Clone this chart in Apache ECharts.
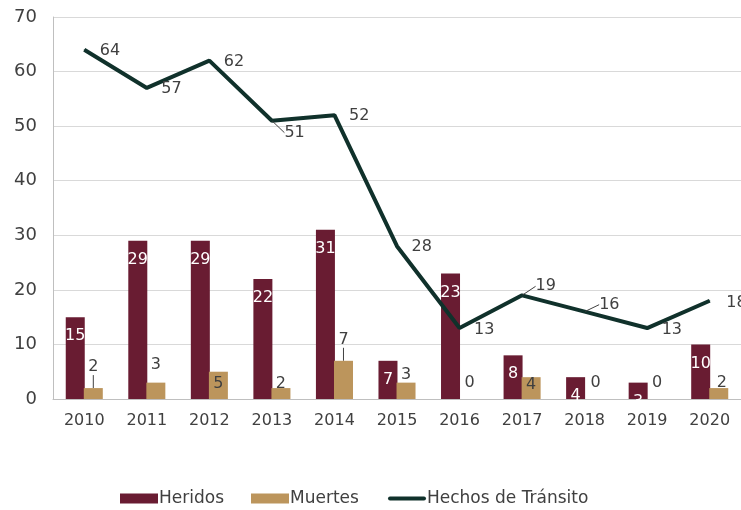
<!DOCTYPE html>
<html>
<head>
<meta charset="utf-8">
<script src="https://cdn.jsdelivr.net/npm/echarts@6/dist/echarts.min.js"></script>
<style>
  html, body { margin: 0; padding: 0; background: #ffffff; }
  #chart { width: 741px; height: 510px; }
</style>
</head>
<body>
<div id="chart"></div>
<script>
// Años
const years = ['2010', '2011', '2012', '2013', '2014', '2015', '2016', '2017', '2018', '2019', '2020'];
// Personas heridas por año
const heridos = [15, 29, 29, 22, 31, 7, 23, 8, 4, 3, 10];
// Personas fallecidas por año
const muertes = [2, 3, 5, 2, 7, 3, 0, 4, 0, 0, 2];
// Total de hechos de tránsito por año
const hechos = [64, 57, 62, 51, 52, 28, 13, 19, 16, 13, 18];
// Marcas del eje vertical
const yTicks = [0, 10, 20, 30, 40, 50, 60, 70];

const FONT = '"DejaVu Sans", sans-serif';
const TEXT = '#404040';
const C_HER = '#691C32';
const C_MUE = '#BC955C';
const C_HEC = '#10312B';

// Etiquetas de muertes: posición y ajuste fino por año
const muertesLabelPos = ['top', 'top', 'inside', 'top', 'top', 'top', 'top', 'inside', 'top', 'top', 'top'];
const muertesLabelShift = [[0, -8], [0, -5], [0, -2], [0, 9], [0, -8], [0, 5], [1, -3], [0, -3], [2, -3], [1, -3], [3, 8]];
const muertesGuide = [true, false, false, false, true, false, false, false, false, false, false];
// Etiquetas de hechos: ajuste fino y línea guía
const hechosLabelShift = [[3, 1], [2, 1], [2, 1], [0, 12], [2, 1], [2, 1], [2, 2], [1, -9], [2, -7], [2, 2], [4, 2]];
const hechosGuide = [false, false, false, true, false, false, false, true, true, false, false];

const legendBase = {
  bottom: 3,
  padding: 0,
  itemWidth: 38,
  itemHeight: 10,
  textStyle: { fontFamily: FONT, fontSize: 17, color: TEXT, padding: [0, 0, 0, -4] }
};

const option = {
  animation: false,
  grid: { left: 53, right: -2, top: 17, bottom: 111, containLabel: false },
  legend: [
    Object.assign({}, legendBase, { left: 120, data: [{ name: 'Heridos', icon: 'rect' }] }),
    Object.assign({}, legendBase, { left: 251, data: [{ name: 'Muertes', icon: 'rect' }] }),
    Object.assign({}, legendBase, {
      left: 388,
      data: [{ name: 'Hechos de Tránsito', icon: 'path://M2,0 L36,0 A2,2 0 0 1 36,4 L2,4 A2,2 0 0 1 2,0 Z' }]
    })
  ],
  xAxis: {
    type: 'category',
    data: years,
    axisLine: { lineStyle: { color: '#bfbfbf', width: 1 } },
    axisTick: { show: false },
    axisLabel: { fontFamily: FONT, fontSize: 16, color: TEXT, margin: 14 }
  },
  yAxis: {
    type: 'value',
    min: yTicks[0],
    max: yTicks[yTicks.length - 1],
    interval: 10,
    axisLine: { show: true, lineStyle: { color: '#bfbfbf', width: 1 } },
    axisTick: { show: false },
    splitLine: { lineStyle: { color: '#d9d9d9', width: 1 } },
    axisLabel: { fontFamily: FONT, fontSize: 18, color: TEXT, margin: 16 }
  },
  series: [
    {
      name: 'Heridos',
      type: 'bar',
      data: heridos,
      barWidth: 19,
      barGap: '-5%',
      itemStyle: { color: C_HER },
      label: {
        show: true,
        position: 'insideTop',
        distance: 11,
        fontFamily: FONT,
        fontSize: 16,
        color: '#ffffff'
      }
    },
    {
      name: 'Muertes',
      type: 'bar',
      data: muertes.map((v, i) => ({
        value: v,
        label: { position: muertesLabelPos[i] },
        labelLine: { show: muertesGuide[i] }
      })),
      barWidth: 19,
      itemStyle: { color: C_MUE },
      label: {
        show: true,
        distance: 5,
        fontFamily: FONT,
        fontSize: 16,
        color: TEXT
      },
      labelLine: { lineStyle: { color: TEXT, width: 1 }, length2: 0 },
      labelLayout: (p) => ({ dx: muertesLabelShift[p.dataIndex][0], dy: muertesLabelShift[p.dataIndex][1] })
    },
    {
      name: 'Hechos de Tránsito',
      type: 'line',
      data: hechos.map((v, i) => ({
        value: v,
        labelLine: { show: hechosGuide[i] }
      })),
      symbol: 'circle',
      symbolSize: 1,
      lineStyle: { color: C_HEC, width: 4 },
      itemStyle: { color: C_HEC },
      label: {
        show: true,
        position: 'right',
        distance: 12,
        fontFamily: FONT,
        fontSize: 16,
        color: TEXT
      },
      labelLine: { lineStyle: { color: TEXT, width: 1 } },
      labelLayout: (p) => ({ dx: hechosLabelShift[p.dataIndex][0], dy: hechosLabelShift[p.dataIndex][1] }),
      z: 5
    }
  ]
};

const chart = echarts.init(document.getElementById('chart'), null, { renderer: 'canvas' });
chart.setOption(option);
</script>
</body>
</html>
